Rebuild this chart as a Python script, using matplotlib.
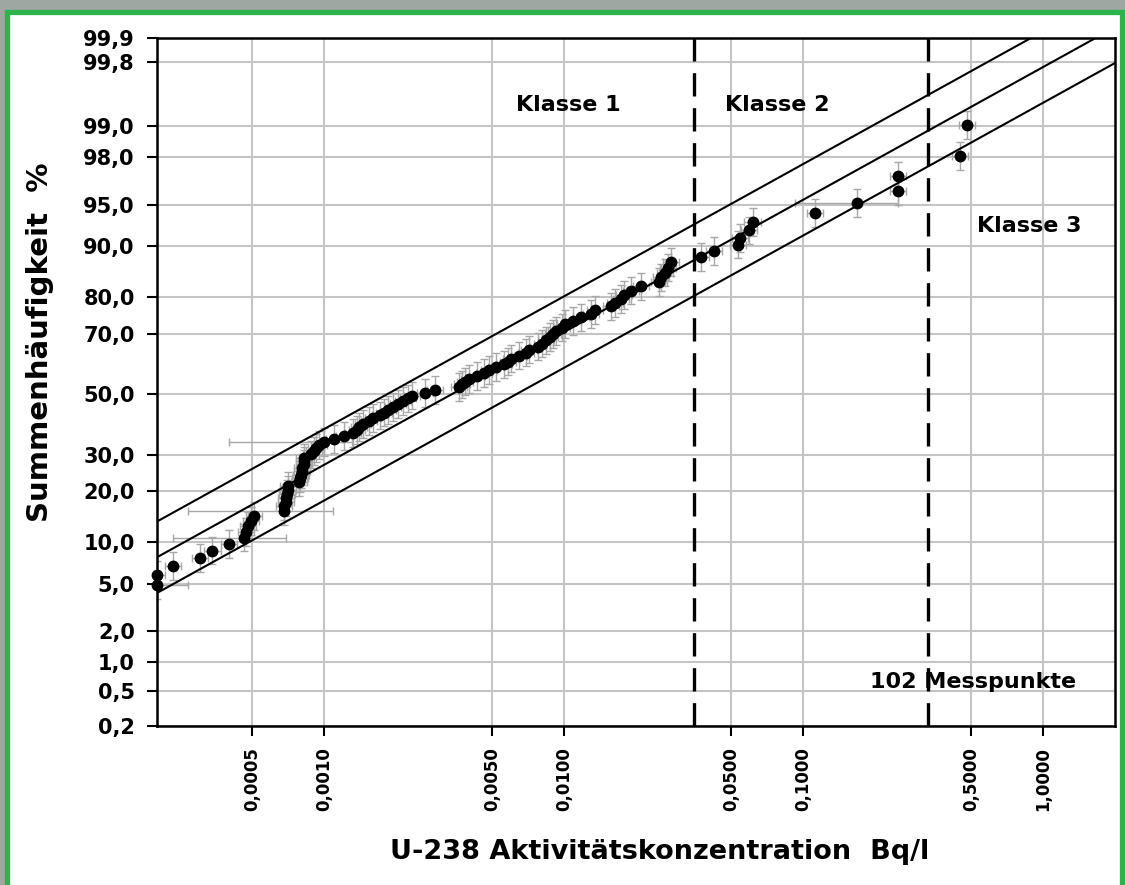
import numpy as np
import matplotlib
matplotlib.use("Agg")
import matplotlib.pyplot as plt
from matplotlib.patches import Rectangle
from matplotlib.ticker import FixedLocator, NullLocator
from statistics import NormalDist

# U-238 activity concentrations (Bq/l), sorted; the 4 lowest of 102 lie below 0.0002
n_total = 102
first_rank = 5
conc = [
    0.00020, 0.00020, 0.000233, 0.000301, 0.000341, 0.000398, 0.00046, 0.000469,
    0.000478, 0.000492, 0.000506, 0.000675, 0.000681, 0.000688, 0.000694, 0.000701,
    0.000708, 0.000708, 0.000787, 0.000794, 0.000802, 0.000810, 0.000810, 0.000818,
    0.000825, 0.000825, 0.000883, 0.000908, 0.000926, 0.000953, 0.00100, 0.00110,
    0.00121, 0.00132, 0.00137, 0.00140, 0.00145, 0.00153, 0.00160, 0.00170,
    0.00178, 0.00185, 0.00194, 0.00203, 0.00213, 0.00224, 0.00233, 0.00264,
    0.00290, 0.00365, 0.00376, 0.00387, 0.00402, 0.00434, 0.00464, 0.00487,
    0.00521, 0.00562, 0.00584, 0.00601, 0.00649, 0.00695, 0.00715, 0.00780,
    0.00810, 0.00841, 0.00875, 0.00900, 0.00926, 0.00981, 0.0101, 0.0109,
    0.0118, 0.0130, 0.0135, 0.0157, 0.0163, 0.0173, 0.0178, 0.0190,
    0.0209, 0.0249, 0.0254, 0.0264, 0.0271, 0.0279, 0.0372, 0.0422,
    0.0531, 0.0546, 0.0590, 0.0613, 0.112, 0.168, 0.249, 0.249,
    0.451, 0.482,
]
# default relative uncertainty of the concentration, plus a few wide ones (rank: lo, hi)
x_unc = 1.08
x_unc_wide = {5: (0.00015, 0.00027), 11: (0.000233, 0.00069), 16: (0.00027, 0.00109),
              35: (0.0004, 0.0013), 98: (0.092, 0.248)}
y_unc_z = 0.12

# fitted log-normal distribution and its band
geo_mean = 0.0034
sigma_log = 0.87
band_z = 0.31

class_limits = [0.035, 0.33]

x_ticks = [0.0005, 0.001, 0.005, 0.01, 0.05, 0.1, 0.5, 1.0]
x_labels = ["0,0005", "0,0010", "0,0050", "0,0100", "0,0500", "0,1000", "0,5000", "1,0000"]
y_ticks = [0.2, 0.5, 1.0, 2.0, 5.0, 10.0, 20.0, 30.0, 50.0, 70.0, 80.0, 90.0, 95.0, 98.0, 99.0, 99.8, 99.9]
y_labels = ["0,2", "0,5", "1,0", "2,0", "5,0", "10,0", "20,0", "30,0", "50,0", "70,0", "80,0",
            "90,0", "95,0", "98,0", "99,0", "99,8", "99,9"]

_nd = NormalDist()


def prob_fwd(p):
    p = np.asarray(p, dtype=float)
    q = np.clip(np.nan_to_num(p / 100.0, nan=0.5), 1e-9, 1 - 1e-9)
    z = np.vectorize(_nd.inv_cdf, otypes=[float])(q)
    return np.where(np.isnan(p), np.nan, z)


def prob_inv(z):
    z = np.asarray(z, dtype=float)
    return 100.0 * np.vectorize(_nd.cdf, otypes=[float])(z)


conc = np.array(conc)
ranks = np.arange(first_rank, first_rank + len(conc))
perc = ranks / (n_total + 1) * 100.0

x_lo = conc / x_unc
x_hi = conc * x_unc
for r, (lo, hi) in x_unc_wide.items():
    x_lo[r - first_rank] = lo
    x_hi[r - first_rank] = hi
zp = prob_fwd(perc)
p_lo = prob_inv(zp - y_unc_z)
p_hi = prob_inv(zp + y_unc_z)

plt.rcParams["font.family"] = ["DejaVu Sans"]
plt.rcParams["font.weight"] = "bold"

fig = plt.figure(figsize=(11.25, 8.85), dpi=100, facecolor="#9ea7a2")
fig.add_artist(Rectangle((7 / 1125, -0.02), 1115 / 1125, (885 - 12) / 885 + 0.02,
                         transform=fig.transFigure, facecolor="white",
                         edgecolor="#2cb34b", lw=3.8, zorder=0))
ax = fig.add_axes([157 / 1125, 1 - 726 / 885, 958 / 1125, 688 / 885])
ax.set_xscale("log")
ax.set_yscale("function", functions=(prob_fwd, prob_inv))
ax.set_xlim(0.0002, 2.0)
ax.set_ylim(0.2, 99.9)

ax.xaxis.set_major_locator(FixedLocator(x_ticks))
ax.xaxis.set_minor_locator(NullLocator())
ax.set_xticklabels(x_labels, rotation=90, fontsize=12, fontweight="bold")
ax.yaxis.set_major_locator(FixedLocator(y_ticks))
ax.yaxis.set_minor_locator(NullLocator())
ax.set_yticklabels(y_labels, fontsize=15, fontweight="bold")
ax.tick_params(axis="both", direction="out", length=7, width=1.5, color="black")
ax.tick_params(axis="x", pad=8)
ax.tick_params(axis="y", pad=9)
ax.grid(True, color="#c4c4c4", lw=1.5, zorder=0)
for s in ax.spines.values():
    s.set_linewidth(1.8)
    s.set_color("black")

# regression line and band
xs = np.logspace(np.log10(0.0002), np.log10(2.0), 60)
zs = (np.log10(xs) - np.log10(geo_mean)) / sigma_log
for off in (-band_z, 0.0, band_z):
    ax.plot(xs, prob_inv(zs + off), color="black", lw=1.5, zorder=3)

# class limits
for xc in class_limits:
    ax.axvline(xc, color="black", lw=2.4, linestyle=(0, (7, 3.5)), zorder=4)

ax.errorbar(conc, perc, xerr=[conc - x_lo, x_hi - conc], yerr=[perc - p_lo, p_hi - perc],
            fmt="none", ecolor="#a8a8a8", elinewidth=1.0, capsize=3, capthick=1.0, zorder=2)
ax.plot(conc, perc, "o", color="black", ms=7.5, zorder=5, clip_on=False)

ax.text(0.0104, 99.4, "Klasse 1", ha="center", va="center", fontsize=16, fontweight="bold")
ax.text(0.078, 99.4, "Klasse 2", ha="center", va="center", fontsize=16, fontweight="bold")
ax.text(0.875, 92.8, "Klasse 3", ha="center", va="center", fontsize=16, fontweight="bold")
ax.text(0.51, 0.63, "102 Messpunkte", ha="center", va="center", fontsize=16, fontweight="bold")

ax.set_xlabel("U-238 Aktivitätskonzentration  Bq/l", fontsize=19.5, fontweight="bold")
ax.xaxis.set_label_coords(0.525, -0.183)
ax.xaxis.label.set_va("center")
ax.set_ylabel("Summenhäufigkeit  %", fontsize=21, fontweight="bold")
ax.yaxis.set_label_coords(-0.122, 0.558)
ax.yaxis.label.set_va("center")

fig.savefig("out.png", dpi=100, facecolor=fig.get_facecolor())
